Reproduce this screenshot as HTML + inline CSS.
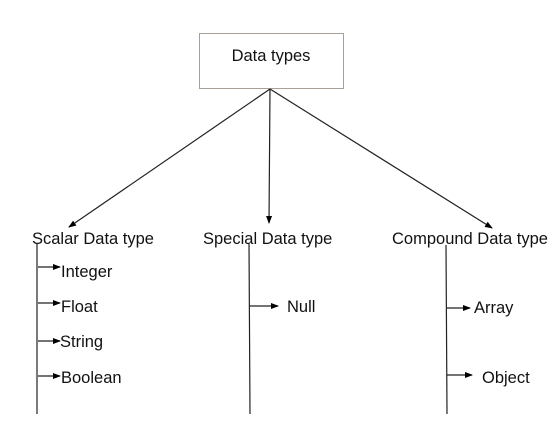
<!DOCTYPE html>
<html><head><style>
body{margin:0;background:#fff;}
svg{display:block;}
text{font-family:"Liberation Sans",sans-serif;font-size:16.5px;fill:#111;}
</style></head><body>
<svg width="558" height="424" viewBox="0 0 558 424">
<defs><marker id="a" markerWidth="8" markerHeight="8" refX="7" refY="4" orient="auto" markerUnits="userSpaceOnUse"><path d="M0,1 L8,4 L0,7z" fill="#000"/></marker></defs>
<rect x="199.5" y="33.5" width="144" height="55" fill="#fff" stroke="#a89f95"/>
<text x="271" y="61" text-anchor="middle">Data types</text>
<g stroke="#222" stroke-width="1.2" fill="none">
<line x1="270" y1="89" x2="69" y2="227" marker-end="url(#a)"/>
<line x1="270" y1="89" x2="269" y2="223" marker-end="url(#a)"/>
<line x1="270" y1="89" x2="492" y2="228" marker-end="url(#a)"/>
<line x1="37" y1="243" x2="37" y2="414"/>
<line x1="249" y1="243" x2="250" y2="414"/>
<line x1="446" y1="245" x2="447" y2="414"/>
<line x1="38" y1="267" x2="60" y2="267" marker-end="url(#a)"/>
<line x1="38" y1="303" x2="60" y2="303" marker-end="url(#a)"/>
<line x1="38" y1="341" x2="60" y2="341" marker-end="url(#a)"/>
<line x1="38" y1="376" x2="60" y2="376" marker-end="url(#a)"/>
<line x1="250" y1="306" x2="278" y2="306" marker-end="url(#a)"/>
<line x1="447" y1="308" x2="470" y2="308" marker-end="url(#a)"/>
<line x1="447" y1="375" x2="472" y2="375" marker-end="url(#a)"/>
</g>
<text x="32" y="244">Scalar Data type</text>
<text x="203" y="244">Special Data type</text>
<text x="392" y="244">Compound Data type</text>
<text x="61" y="277">Integer</text>
<text x="61" y="312">Float</text>
<text x="60" y="347">String</text>
<text x="61" y="383">Boolean</text>
<text x="287" y="312">Null</text>
<text x="474" y="313">Array</text>
<text x="482" y="383">Object</text>
</svg>
</body></html>
